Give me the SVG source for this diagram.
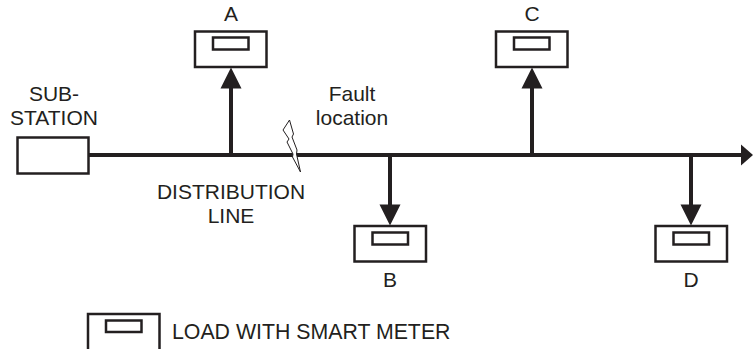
<svg xmlns="http://www.w3.org/2000/svg" width="753" height="349" viewBox="0 0 753 349">
<style>
.box{fill:#fff;stroke:#231f20;stroke-width:2.5}
.meter{fill:#fff;stroke:#231f20;stroke-width:2.5}
.t{font-family:"Liberation Sans",Arial,sans-serif;font-size:21px;fill:#231f20;text-anchor:middle}
.wire{stroke:#231f20;stroke-width:4;fill:none}
.head{fill:#231f20;stroke:none}
</style>
<g id="connectors">
<path class="wire" d="M89 155H743"/>
<path class="head" d="M741 144.500L753 155L741 165.500Z"/>
<path class="wire" d="M231 155V86"/>
<path class="head" d="M220.500 88.500L231 67.500L241.500 88.500Z"/>
<path class="wire" d="M532 155V86"/>
<path class="head" d="M521.500 88.500L532 67.500L542.500 88.500Z"/>
<path class="wire" d="M390 155V206"/>
<path class="head" d="M379.500 204.500L390 225.500L400.500 204.500Z"/>
<path class="wire" d="M691 155V206"/>
<path class="head" d="M680.500 204.500L691 225.500L701.500 204.500Z"/>
</g>
<g id="substation">
<rect class="box" x="17.500" y="137.500" width="71" height="36"/>
<text class="t" x="54" y="101">SUB-</text>
<text class="t" x="54" y="125">STATION</text>
</g>
<g id="fault">
<path d="M289.500 120L283 130L289 139L287 142L293 154L292.500 157L300.500 172L296.500 154L297 150L292 137L293.500 134Z" fill="#fff" stroke="#231f20" stroke-width="1"/>
<text class="t" x="352" y="101">Fault</text>
<text class="t" x="352" y="125">location</text>
</g>
<g id="line-label">
<text class="t" x="231" y="199">DISTRIBUTION</text>
<text class="t" x="231" y="223">LINE</text>
</g>
<g id="node-a">
<text class="t" x="231" y="21">A</text>
<rect class="box" x="195" y="31.500" width="71.500" height="35.500"/>
<rect class="meter" x="213" y="37.500" width="35.500" height="12"/>
</g>
<g id="node-c">
<text class="t" x="532" y="21">C</text>
<rect class="box" x="496" y="31.500" width="71.500" height="35.500"/>
<rect class="meter" x="514" y="37.500" width="35.500" height="12"/>
</g>
<g id="node-b">
<rect class="box" x="354.500" y="226" width="71.500" height="35.500"/>
<rect class="meter" x="372.500" y="232.500" width="35.500" height="12"/>
<text class="t" x="390" y="287">B</text>
</g>
<g id="node-d">
<rect class="box" x="655.500" y="226" width="71.500" height="35.500"/>
<rect class="meter" x="673.500" y="232.500" width="35.500" height="12"/>
<text class="t" x="691" y="287">D</text>
</g>
<g id="legend">
<rect class="box" x="88" y="314" width="71.500" height="40"/>
<rect class="meter" x="106" y="320.500" width="35.500" height="11.500"/>
<text class="t" x="172" y="339" style="text-anchor:start;font-size:21.3px">LOAD WITH SMART METER</text>
</g>
</svg>
